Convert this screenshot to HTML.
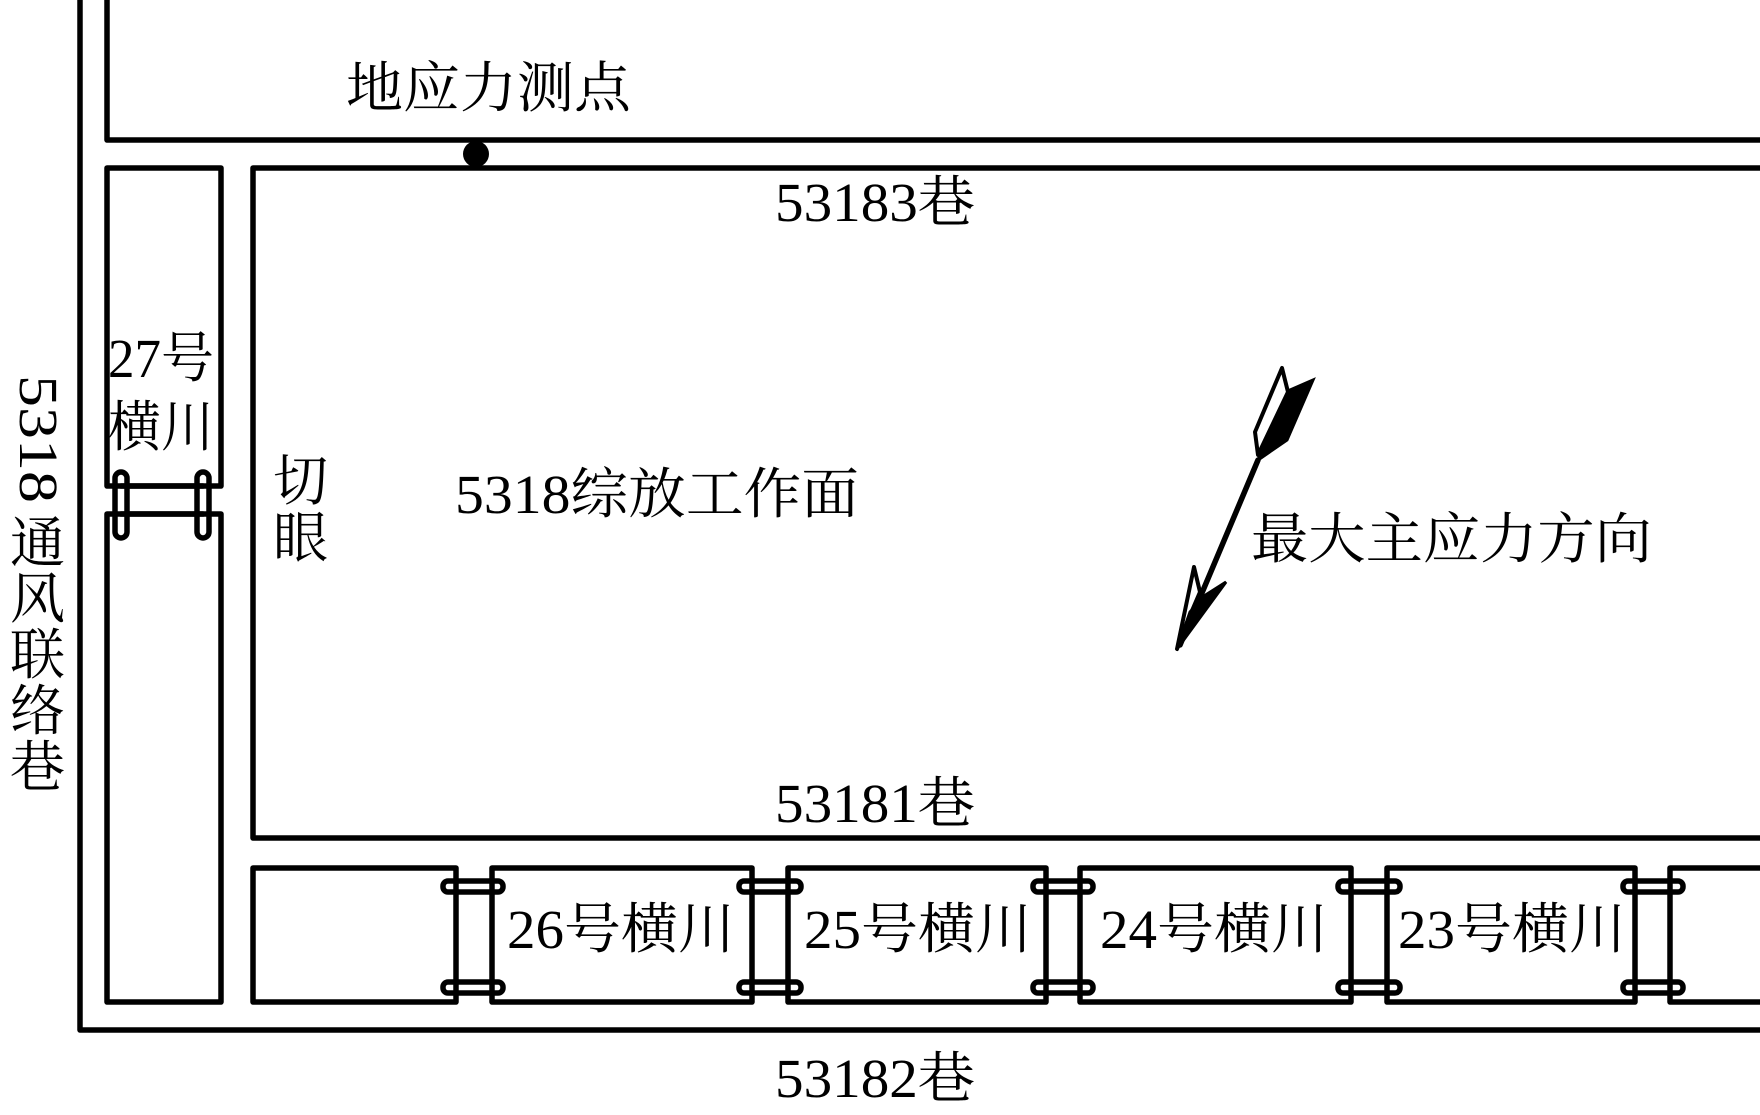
<!DOCTYPE html>
<html><head><meta charset="utf-8"><style>
html,body{margin:0;padding:0;background:#fff;}
svg{display:block;}
text{font-family:"Liberation Serif","Noto Serif CJK SC",serif;fill:#000;}
</style></head><body>
<svg width="1760" height="1115" viewBox="0 0 1760 1115" xmlns="http://www.w3.org/2000/svg">
<g fill="none" stroke="#000" stroke-width="5.5" stroke-linejoin="round" stroke-linecap="round">
<polyline points="80,0 80,1030 1760,1030"/>
<polyline points="107,0 107,140 1760,140"/>
<polyline points="1760,168 253,168 253,838 1760,838"/>
<rect x="107" y="168" width="114" height="318"/>
<rect x="107" y="514" width="114" height="488"/>
<line x1="121" y1="486" x2="203" y2="486"/>
<line x1="121" y1="514" x2="203" y2="514"/>
<rect x="115" y="472" width="12" height="66" rx="6"/>
<rect x="197" y="472" width="12" height="66" rx="6"/>
<rect x="253" y="868" width="203" height="134"/>
<rect x="492" y="868" width="260" height="134"/>
<rect x="788" y="868" width="258" height="134"/>
<rect x="1080" y="868" width="271" height="134"/>
<rect x="1387" y="868" width="248" height="134"/>
<polyline points="1760,868 1670,868 1670,1002 1760,1002"/>
<rect x="443" y="881" width="60" height="11" rx="5"/>
<rect x="443" y="982" width="60" height="11" rx="5"/>
<rect x="739" y="881" width="62" height="11" rx="5"/>
<rect x="739" y="982" width="62" height="11" rx="5"/>
<rect x="1033" y="881" width="60" height="11" rx="5"/>
<rect x="1033" y="982" width="60" height="11" rx="5"/>
<rect x="1338" y="881" width="62" height="11" rx="5"/>
<rect x="1338" y="982" width="62" height="11" rx="5"/>
<rect x="1623" y="881" width="60" height="11" rx="5"/>
<rect x="1623" y="982" width="60" height="11" rx="5"/>
<line x1="1258" y1="460" x2="1180" y2="645"/>
<polygon points="1282,368 1288,392 1258,455 1255,432" stroke-width="4"/>
</g>
<circle cx="476" cy="154" r="13" fill="#000"/>
<polygon points="1258,460 1290,390 1313,380 1287,440" fill="#000" stroke="#000" stroke-width="3"/>
<polygon points="1177,649 1194,567 1200,592 1188,620" fill="none" stroke="#000" stroke-width="4" stroke-linejoin="round"/>
<polygon points="1177,649 1226,582 1204,596 1190,612" fill="#000" stroke="#000" stroke-width="3"/>
<g font-size="55">
<text x="346" y="107" textLength="285" lengthAdjust="spacingAndGlyphs">地应力测点</text>
<text x="775" y="221" textLength="200" lengthAdjust="spacingAndGlyphs">53183巷</text>
<text x="775" y="822" textLength="200" lengthAdjust="spacingAndGlyphs">53181巷</text>
<text x="775" y="1097" textLength="200" lengthAdjust="spacingAndGlyphs">53182巷</text>
<text x="455" y="513" textLength="404" lengthAdjust="spacingAndGlyphs">5318综放工作面</text>
<text x="1251" y="558" textLength="401" lengthAdjust="spacingAndGlyphs">最大主应力方向</text>
<text x="273" y="500">切</text>
<text x="273" y="557">眼</text>
<text x="108" y="377" textLength="106" lengthAdjust="spacingAndGlyphs">27号</text>
<text x="108" y="446" textLength="106" lengthAdjust="spacingAndGlyphs">横川</text>
<text x="507" y="948" textLength="228" lengthAdjust="spacingAndGlyphs">26号横川</text>
<text x="804" y="948" textLength="228" lengthAdjust="spacingAndGlyphs">25号横川</text>
<text x="1100" y="948" textLength="228" lengthAdjust="spacingAndGlyphs">24号横川</text>
<text x="1398" y="948" textLength="228" lengthAdjust="spacingAndGlyphs">23号横川</text>
<text transform="translate(20,375) rotate(90)" textLength="128" lengthAdjust="spacingAndGlyphs">5318</text>
<text x="10" y="562">通</text>
<text x="10" y="618">风</text>
<text x="10" y="674">联</text>
<text x="10" y="730">络</text>
<text x="10" y="786">巷</text>
</g>
</svg>
</body></html>
